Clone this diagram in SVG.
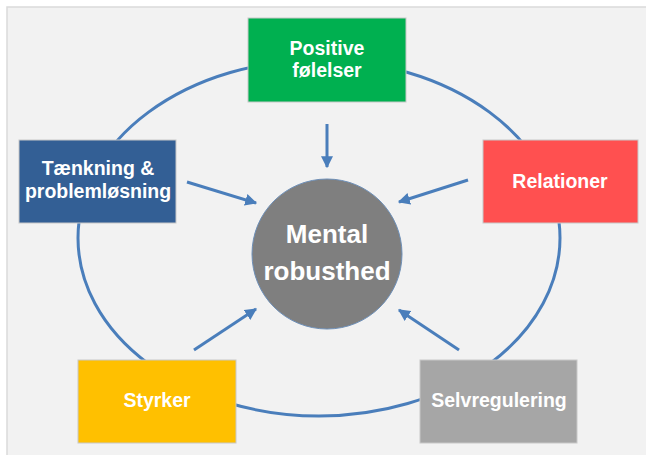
<svg xmlns="http://www.w3.org/2000/svg" width="646" height="455" viewBox="0 0 646 455">
<style>
.box{stroke:#c8c8c8;stroke-width:1}
.lbl{font-family:"Liberation Sans",Arial,sans-serif;font-weight:bold;font-size:19.5px;fill:#ffffff;text-anchor:middle}
.big{font-size:26px}
.ring{fill:none;stroke:#4a7ebb;stroke-width:3}
.arr{stroke:#4a7ebb;stroke-width:3;fill:none;marker-end:url(#ah)}
</style>
<defs>
<marker id="ah" viewBox="0 0 10 10" refX="9" refY="5" markerWidth="4" markerHeight="4" orient="auto" markerUnits="strokeWidth">
<path d="M0,0 L10,5 L0,10 z" fill="#4a7ebb"/>
</marker>
</defs>
<rect x="0" y="0" width="646" height="455" fill="#ffffff"/>
<rect x="7" y="7" width="650" height="460" fill="#f2f2f2" stroke="#dadada" stroke-width="1.5"/>
<g id="connectors">
<ellipse class="ring" cx="319" cy="238" rx="241" ry="178"/>
<line class="arr" x1="327" y1="124" x2="327" y2="167"/>
<line class="arr" x1="187" y1="182" x2="256" y2="203"/>
<line class="arr" x1="468" y1="180" x2="399" y2="202"/>
<line class="arr" x1="194" y1="350" x2="256" y2="309"/>
<line class="arr" x1="459" y1="350" x2="399" y2="310"/>
</g>
<g id="center">
<circle cx="327" cy="254" r="75" fill="#7f7f7f" stroke="#6d8fb8" stroke-width="1"/>
<text class="lbl big" x="327" y="243">Mental</text>
<text class="lbl big" x="327" y="280">robusthed</text>
</g>
<g id="positive">
<rect class="box" x="248" y="18" width="158" height="84" fill="#00b050"/>
<text class="lbl" x="327" y="55">Positive</text>
<text class="lbl" x="327" y="77">følelser</text>
</g>
<g id="taenkning">
<rect class="box" x="19" y="140" width="157" height="83" fill="#335f95"/>
<text class="lbl" x="98" y="175">Tænkning &amp;</text>
<text class="lbl" x="98" y="198">problemløsning</text>
</g>
<g id="relationer">
<rect class="box" x="483" y="140" width="155" height="83" fill="#ff5050"/>
<text class="lbl" x="560" y="188">Relationer</text>
</g>
<g id="styrker">
<rect class="box" x="78" y="360" width="158" height="83" fill="#ffc000"/>
<text class="lbl" x="157" y="407">Styrker</text>
</g>
<g id="selvregulering">
<rect class="box" x="420" y="360" width="157" height="83" fill="#a6a6a6"/>
<text class="lbl" x="499" y="407">Selvregulering</text>
</g>
</svg>
